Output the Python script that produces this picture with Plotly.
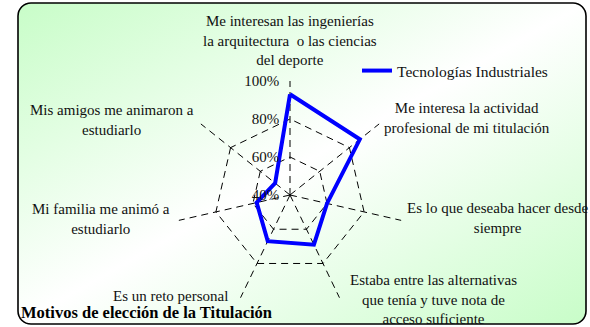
import base64
import plotly.graph_objects as go

W, H = 590, 327

motivos = [
    'Me interesan las ingenierías<br>la arquitectura  o las ciencias<br>del deporte',
    'Me interesa la actividad<br>profesional de mi titulación',
    'Es lo que deseaba hacer desde<br>siempre',
    'Estaba entre las alternativas<br>que tenía y tuve nota de<br>acceso suficiente',
    'Es un reto personal',
    'Mi familia me animó a<br>estudiarlo',
    'Mis amigos me animaron a<br>estudiarlo',
]
tecnologias_industriales = [93, 87, 60, 69, 67, 58, 50]
radial_ticks = [40, 60, 80, 100]

# where each category label sits (pixel centre of the text block)
label_pos = [(290, 41), (467, 118), (498, 218), (434, 299),
             (170, 296), (101, 219), (112, 120)]

# background frame: rounded box with diagonal green-white-green gradient
svg = (
    '<svg xmlns="http://www.w3.org/2000/svg" width="570" height="323" '
    'viewBox="0 0 570 323" preserveAspectRatio="none">'
    '<defs><linearGradient id="g" x1="0" y1="0" x2="1" y2="1">'
    '<stop offset="0" stop-color="#C8FDC8"/>'
    '<stop offset="0.5" stop-color="#FFFFFF"/>'
    '<stop offset="1" stop-color="#C8FDC8"/>'
    '</linearGradient></defs>'
    '<rect x="1" y="1" width="568" height="321" rx="13" ry="13" '
    'fill="url(#g)" stroke="#000000" stroke-width="1.6"/>'
    '</svg>'
)
bg_src = 'data:image/svg+xml;base64,' + base64.b64encode(svg.encode()).decode()

fig = go.Figure()
fig.add_trace(go.Scatterpolar(
    r=tecnologias_industriales + tecnologias_industriales[:1],
    theta=motivos + motivos[:1],
    mode='lines',
    name='Tecnologías Industriales',
    line=dict(color='#0000FF', width=4),
))

annotations = [dict(
    text='<b>Motivos de elección de la Titulación</b>',
    xref='paper', yref='paper', x=19 / W, y=1 - 312 / H,
    xanchor='left', yanchor='middle', showarrow=False,
    font=dict(size=16.5, color='black'),
)]
for txt, (px, py) in zip(motivos, label_pos):
    annotations.append(dict(
        text=txt, xref='paper', yref='paper', x=px / W, y=1 - py / H,
        xanchor='center', yanchor='middle', align='center', showarrow=False,
        font=dict(size=15, color='#111111'),
    ))

cx, cy, R = 290, 195, 114
fig.update_layout(
    width=W, height=H,
    margin=dict(l=0, r=0, t=0, b=0),
    paper_bgcolor='white',
    font=dict(family='Liberation Serif', size=15, color='#111111'),
    polar=dict(
        domain=dict(x=[(cx - R) / W, (cx + R) / W],
                    y=[(H - cy - R) / H, (H - cy + R) / H]),
        bgcolor='rgba(0,0,0,0)',
        gridshape='linear',
        angularaxis=dict(
            direction='clockwise', rotation=90,
            showline=False, showticklabels=False, ticks='',
            gridcolor='black', griddash='7px,5px', gridwidth=1,
        ),
        radialaxis=dict(
            range=[40, 100], angle=90, side='counterclockwise',
            tickvals=radial_ticks,
            ticktext=[f'{v}%' for v in radial_ticks],
            tickangle=90,
            showline=False, ticks='outside', ticklen=5,
            tickcolor='rgba(0,0,0,0)',
            gridcolor='black', griddash='7px,5px', gridwidth=1,
            tickfont=dict(size=15),
        ),
    ),
    showlegend=True,
    legend=dict(
        x=357 / W, y=1 - 54 / H, xanchor='left', yanchor='top',
        bgcolor='rgba(0,0,0,0)', font=dict(size=15.5),
        itemwidth=30,
    ),
    images=[dict(
        source=bg_src, xref='paper', yref='paper',
        x=17 / W, y=1 - 2 / H, sizex=570 / W, sizey=323 / H,
        xanchor='left', yanchor='top', sizing='stretch', layer='below',
    )],
    annotations=annotations,
)

fig.write_html('out.html', config={'displayModeBar': False},
               post_script="document.body.style.margin='0';")
